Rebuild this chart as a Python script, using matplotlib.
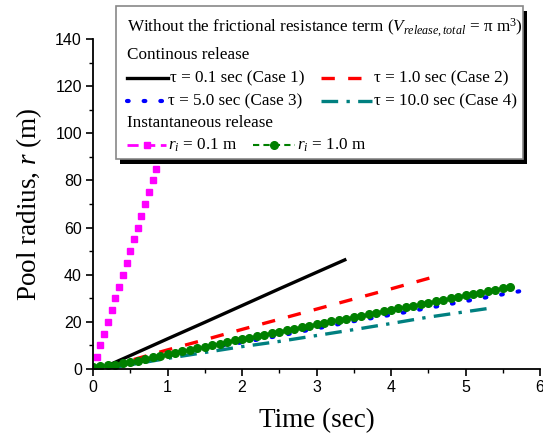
import matplotlib.pyplot as plt
from matplotlib.lines import Line2D
from matplotlib.patches import Rectangle
from matplotlib.ticker import MultipleLocator

# Continuous release, spreading without the frictional term
t_case1 = [0.2, 0.5, 1.0, 1.5, 2.0, 2.5, 3.0, 3.38]
r_case1 = [1.5, 5.7, 12.8, 19.8, 26.9, 34.0, 41.0, 46.3]

t_case2 = [0.2, 0.5, 1.0, 1.5, 2.0, 2.5, 3.0, 3.5, 4.0, 4.6]
r_case2 = [1.2, 3.6, 8.1, 12.4, 16.8, 21.1, 25.4, 29.7, 34.0, 39.3]

t_case3 = [0.2, 0.5, 1.0, 1.5, 2.0, 2.5, 3.0, 3.5, 4.0, 4.5, 5.0, 5.5, 5.78]
r_case3 = [0.6, 2.5, 5.6, 8.8, 11.3, 14.1, 17.2, 20.3, 23.0, 25.9, 28.8, 31.7, 33.3]

t_case4 = [0.2, 0.5, 1.0, 1.5, 2.0, 2.5, 3.0, 3.5, 4.0, 4.5, 5.0, 5.33]
r_case4 = [0.3, 1.8, 4.5, 7.0, 9.5, 11.7, 14.2, 16.7, 19.3, 22.0, 24.3, 25.8]

# Instantaneous release
t_ri01 = [0.05, 0.10, 0.15, 0.20, 0.25, 0.30, 0.35, 0.40, 0.45, 0.50,
          0.55, 0.60, 0.65, 0.70, 0.75, 0.80, 0.85, 0.90, 0.95]
r_ri01 = [5, 10, 15, 20, 25, 30, 35, 40, 45, 50,
          55, 60, 65, 70, 75, 80, 85, 90, 95]

t_ri10 = [0.0, 0.1, 0.2, 0.3, 0.4, 0.5, 0.6, 0.7, 0.8, 0.9,
          1.0, 1.1, 1.2, 1.3, 1.4, 1.5, 1.6, 1.7, 1.8, 1.9,
          2.0, 2.1, 2.2, 2.3, 2.4, 2.5, 2.6, 2.7, 2.8, 2.9,
          3.0, 3.1, 3.2, 3.3, 3.4, 3.5, 3.6, 3.7, 3.8, 3.9,
          4.0, 4.1, 4.2, 4.3, 4.4, 4.5, 4.6, 4.7, 4.8, 4.9,
          5.0, 5.1, 5.2, 5.3, 5.4, 5.5, 5.6]
r_ri10 = [1.0, 1.2, 1.5, 1.9, 2.4, 3.0, 3.6, 4.2, 4.9, 5.5,
          6.2, 6.9, 7.5, 8.2, 8.8, 9.5, 10.1, 10.8, 11.4, 12.1,
          12.7, 13.3, 14.0, 14.6, 15.2, 15.9, 16.5, 17.1, 17.7, 18.4,
          19.0, 19.6, 20.2, 20.8, 21.4, 22.0, 22.6, 23.3, 23.9, 24.5,
          25.1, 25.7, 26.3, 26.9, 27.5, 28.1, 28.7, 29.4, 30.0, 30.6,
          31.2, 31.8, 32.4, 33.0, 33.6, 34.2, 34.8]

plt.rcParams['mathtext.fontset'] = 'custom'
plt.rcParams['mathtext.rm'] = 'Liberation Serif'
plt.rcParams['mathtext.it'] = 'Liberation Serif:italic'

W, H = 543, 438
fig = plt.figure(figsize=(W / 100, H / 100), dpi=100)
ax = fig.add_axes([93 / W, 1 - 369 / H, 447 / W, 330 / H])

sty = dict(
    case1=dict(color='black', lw=2.4, ls='-'),
    case2=dict(color='red', lw=2.4, ls=(0, (4, 4))),
    case3=dict(color='blue', lw=3.0, ls=(0, (0.4, 3.6)), dash_capstyle='round'),
    case4=dict(color='#008080', lw=2.4, ls=(0, (5, 2.5, 1, 2.5))),
    ri01=dict(color='#ff00ff', lw=0, marker='s', ms=4.8),
    ri10=dict(color='#008000', lw=1.5, ls=(0, (3, 2)), marker='o', ms=5.5),
)

ax.plot(t_case4, r_case4, **sty['case4'])
ax.plot(t_case3, r_case3, **sty['case3'])
ax.plot(t_case2, r_case2, **sty['case2'])
ax.plot(t_case1, r_case1, **sty['case1'])
ax.plot(t_ri10, r_ri10, **sty['ri10'])
ax.plot(t_ri01, r_ri01, **sty['ri01'])

ax.set_xlim(0, 6)
ax.set_ylim(0, 140)
ax.xaxis.set_major_locator(MultipleLocator(1))
ax.xaxis.set_minor_locator(MultipleLocator(0.5))
ax.yaxis.set_major_locator(MultipleLocator(20))
ax.yaxis.set_minor_locator(MultipleLocator(10))
for side in ('top', 'right'):
    ax.spines[side].set_visible(False)
for side in ('left', 'bottom'):
    ax.spines[side].set_linewidth(1.3)
ax.tick_params(which='major', length=5, width=1.2, labelsize=11.5, pad=3)
ax.tick_params(which='minor', length=3, width=1.0)
for lab in ax.get_xticklabels() + ax.get_yticklabels():
    lab.set_fontfamily('Liberation Sans')

ax.set_xlabel('Time (sec)', fontfamily='Liberation Serif', fontsize=19.5, labelpad=9)
ax.set_ylabel(r'Pool radius, $\it{r}$ (m)', fontfamily='Liberation Serif', fontsize=19.5, labelpad=8)


# legend box, laid out in figure pixels
def fxy(px, py):
    return px / W, 1 - py / H


shadow = Rectangle(fxy(120, 164), 407 / W, 153 / H, transform=fig.transFigure,
                   facecolor='black', edgecolor='none', zorder=5)
frame = Rectangle(fxy(116, 159), 407 / W, 153 / H, transform=fig.transFigure,
                  facecolor='white', edgecolor='#888888', lw=1.2, zorder=6)
fig.add_artist(shadow)
fig.add_artist(frame)

tkw = dict(fontfamily='Liberation Serif', fontsize=12.3, va='center', ha='left', zorder=8)
fig.text(*fxy(127, 28), r'Without the frictional resistance term ($V_{release,total}$ = π m$^3$)', **tkw)
fig.text(*fxy(127, 55), 'Continous release', **tkw)
fig.text(*fxy(127, 123), 'Instantaneous release', **tkw)

keys = [
    ('case1', 127, 168, 78, 'τ = 0.1 sec (Case 1)'),
    ('case2', 321, 372, 78, 'τ = 1.0 sec (Case 2)'),
    ('case3', 127, 166, 101, 'τ = 5.0 sec (Case 3)'),
    ('case4', 321, 372, 101, 'τ = 10.0 sec (Case 4)'),
    ('ri01', 127, 166, 145, r'$r_i$ = 0.1 m'),
    ('ri10', 253, 295, 145, r'$r_i$ = 1.0 m'),
]
for name, x0, x1, y, label in keys:
    kw = dict(sty[name])
    if name == 'ri01':
        kw.update(lw=2.0, ls=(0, (4, 2)))
    xa, ya = fxy(x0, y)
    xb, _ = fxy(x1, y)
    line = Line2D([xa, xb], [ya, ya], transform=fig.transFigure, zorder=7, **kw)
    fig.add_artist(line)
    if 'marker' in kw:
        fig.add_artist(Line2D([(xa + xb) / 2], [ya], transform=fig.transFigure, zorder=7,
                              color=kw['color'], marker=kw['marker'], ms=kw['ms'], lw=0))
        line.set_marker('None')
    fig.text(*fxy(x1 + 2, y), label, **tkw)

fig.savefig('out.png', dpi=100)
